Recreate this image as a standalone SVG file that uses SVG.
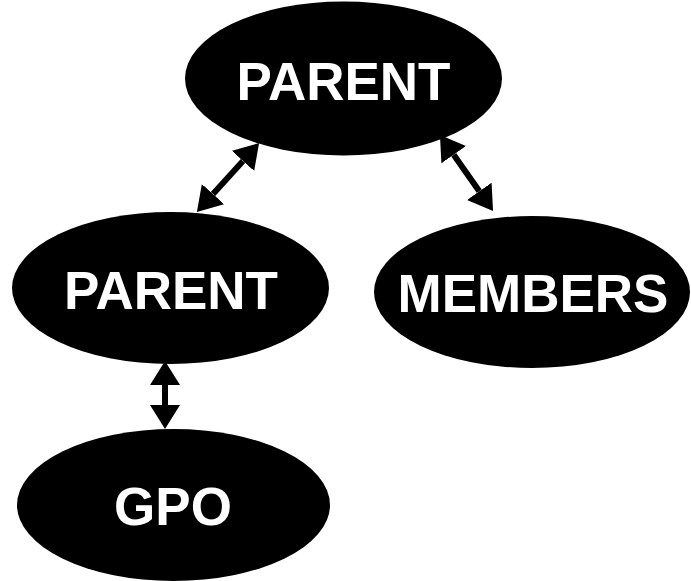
<svg xmlns="http://www.w3.org/2000/svg" width="691" height="581" viewBox="0 0 691 581">
<style>
.node ellipse{fill:#000;}
.node text{fill:#fff;font-family:"Liberation Sans",Arial,sans-serif;font-weight:bold;font-size:53px;text-anchor:middle;}
.edge{stroke:#000;stroke-width:6;fill:none;marker-start:url(#ah);marker-end:url(#ah);}
</style>
<defs>
<marker id="ah" markerUnits="userSpaceOnUse" markerWidth="24" markerHeight="30" viewBox="0 0 24 30" refX="0" refY="15" orient="auto-start-reverse">
<path d="M0,0 L24,15 L0,30 z" fill="#000"/>
</marker>
</defs>
<rect width="691" height="581" fill="#fff"/>
<g id="connectors">
<line class="edge" x1="243" y1="160.9" x2="213" y2="194.1"/>
<line class="edge" x1="453.7" y1="154.7" x2="479.3" y2="191.3"/>
<line class="edge" x1="165" y1="385" x2="165" y2="405"/>
</g>
<g id="parent-top" class="node">
<ellipse cx="343.5" cy="78.5" rx="158.5" ry="77"/>
<text x="343.5" y="100">PARENT</text>
</g>
<g id="parent-left" class="node">
<ellipse cx="170.5" cy="288" rx="158.5" ry="76"/>
<text x="171" y="309">PARENT</text>
</g>
<g id="members" class="node">
<ellipse cx="532" cy="292" rx="158" ry="76"/>
<text x="533" y="312">MEMBERS</text>
</g>
<g id="gpo" class="node">
<ellipse cx="173.5" cy="505" rx="156.5" ry="76"/>
<text x="173" y="525">GPO</text>
</g>
</svg>
